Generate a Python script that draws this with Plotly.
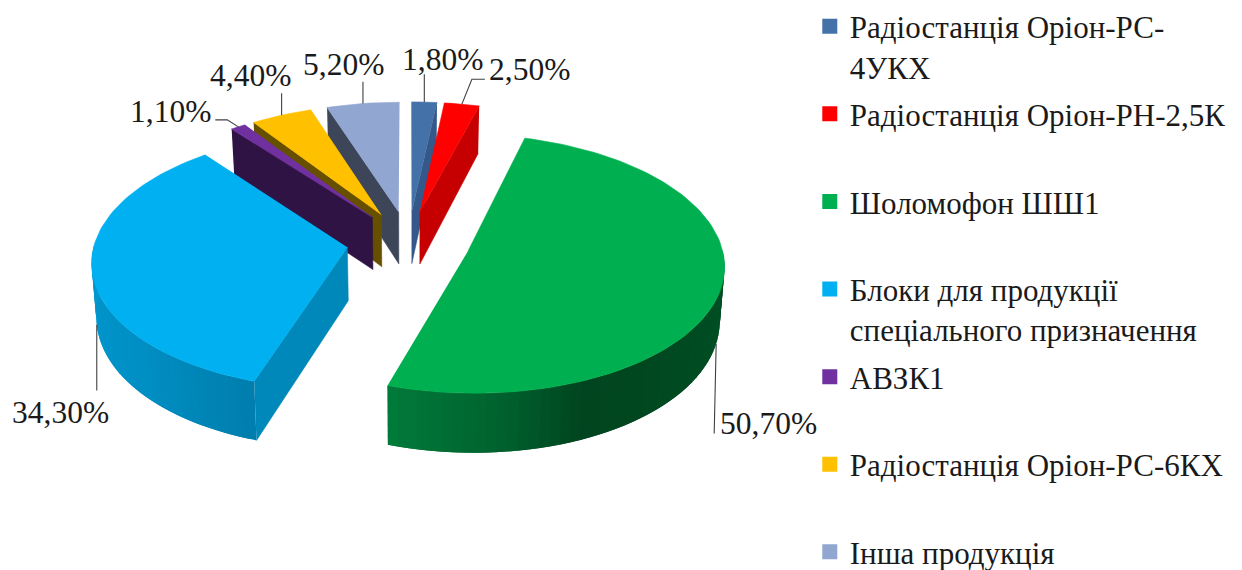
import math
import plotly.graph_objects as go

names = ["Радіостанція Оріон-РС-<br>4УКХ", "Радіостанція Оріон-РН-2,5К<br>&nbsp;", "Шоломофон ШШ1<br>&nbsp;",
         "Блоки для продукції<br>спеціального призначення", "АВЗК1<br>&nbsp;",
         "Радіостанція Оріон-РС-6КХ<br>&nbsp;", "Інша продукція"]
shares = [1.8, 2.5, 50.7, 34.3, 1.1, 4.4, 5.2]
labels = ["1,80%", "2,50%", "50,70%", "34,30%", "1,10%", "4,40%", "5,20%"]
top_colors = ["#4472A8", "#FF0000", "#00B050", "#00B0F0", "#7030A0", "#FFC000", "#91A6D1"]
wall_colors = ["#34588A", "#C60000", "#005C2A", "#0088BB", "#2E1344", "#665000", "#3D4659"]

# Projection of the tilted pie onto the page (pixels)
CX, CY, A, B, DEPTH, PERSP, EXPL = 408.5, 240, 252.6, 127, 53.5, 0.10, 0.245
STEPS_PER_PCT = 2.0

# Leader routes and label centres relative to each slice's rim anchor
leader_routes = {
    0: [(0, -28)], 1: [(10, -25), (23, -25)], 2: [(-2, 90)], 3: [(0, 66)],
    4: [(-11, -7), (-23, -7)], 5: [(0, -22)], 6: [(0, -22)],
}
label_offsets = {
    0: (18, -43), 1: (68, -35), 2: (52, 80), 3: (-36, 88),
    4: (-68, -15), 5: (-31, -40), 6: (-19, -39),
}
wall_shade = {
    2: [(0.0, "#007A39"), (0.2, "#006430"), (0.37, "#00451F"), (1.0, "#005226")],
    3: [(0.0, "#0099D0"), (0.6, "#008FC4"), (1.0, "#007FAE")],
}


def proj(X, Y, z=0.0):
    s = 1 / (1 + PERSP * Y)
    return (CX + A * X * s * (1 - 0.015 * z), CY - B * Y * s + DEPTH * s * z)


def rim(theta, ox, oy, z=0.0):
    return proj(ox + math.sin(theta), oy + math.cos(theta), z)


def hex2rgb(h):
    return tuple(int(h[i:i + 2], 16) for i in (1, 3, 5))


def shade(stops, t):
    for (t0, c0), (t1, c1) in zip(stops, stops[1:]):
        if t <= t1:
            f = (t - t0) / (t1 - t0)
            a, b = hex2rgb(c0), hex2rgb(c1)
            return "rgb(%d,%d,%d)" % tuple(a[i] + (b[i] - a[i]) * f for i in range(3))
    return stops[-1][1]


fig = go.Figure()


def poly(points, color, width=0.6):
    fig.add_trace(go.Scatter(x=[p[0] for p in points], y=[p[1] for p in points],
                             mode="lines", fill="toself", fillcolor=color,
                             line=dict(color=color, width=width), hoverinfo="skip",
                             showlegend=False))


edges = [0.0]
for v in shares:
    edges.append(edges[-1] + v)
total = edges[-1]
ang = [e / total * 2 * math.pi for e in edges]

# Paint back slices first, then the two big front slices
order = [0, 1, 6, 5, 4, 3, 2]
SEGS = 48
anchors = {}
for i in order:
    t0, t1 = ang[i], ang[i + 1]
    mid = (t0 + t1) / 2
    ox, oy = EXPL * math.sin(mid), EXPL * math.cos(mid)
    n = max(3, int(shares[i] * STEPS_PER_PCT))
    thetas = [t0 + (t1 - t0) * k / n for k in range(n + 1)]
    apex_top, apex_bot = proj(ox, oy), proj(ox, oy, 1)
    # radial cut faces turned towards the viewer
    if math.sin(t0) < -1e-6:
        poly([rim(t0, ox, oy), apex_top, apex_bot, rim(t0, ox, oy, 1)], wall_colors[i])
    if math.sin(t1) > 1e-6:
        poly([rim(t1, ox, oy), apex_top, apex_bot, rim(t1, ox, oy, 1)], wall_colors[i])
    # outer wall: each band overlaps the next so no seams show
    front = [t for t in thetas if math.cos(t) <= 0.02]
    if len(front) > 1 and i in wall_shade:
        fine = [front[0] + (front[-1] - front[0]) * k / SEGS for k in range(SEGS + 1)]
        for k in range(SEGS):
            a, b = fine[k], fine[min(k + 2, SEGS)]
            # gradient runs left to right on the page
            frac = 1 - k / (SEGS - 1) if i == 2 else 1 - k / (SEGS - 1)
            band = [rim(a + (b - a) * q / 3, ox, oy) for q in range(4)] + \
                   [rim(b - (b - a) * q / 3, ox, oy, 1) for q in range(4)]
            poly(band, shade(wall_shade[i], frac), width=0)
    # top face
    poly([apex_top] + [rim(t, ox, oy) for t in thetas], top_colors[i])
    anchors[i] = rim(mid, ox, oy, 1 if math.cos(mid) < 0 else 0)

# Leaders and value labels
annotations = []
for i in range(len(shares)):
    ax, ay = anchors[i]
    route = [(ax, ay)] + [(ax + dx, ay + dy) for dx, dy in leader_routes[i]]
    fig.add_trace(go.Scatter(x=[p[0] for p in route], y=[p[1] for p in route], mode="lines",
                             line=dict(color="#404040", width=1.1), hoverinfo="skip", showlegend=False))
    dx, dy = label_offsets[i]
    annotations.append(dict(x=ax + dx, y=ay + dy, xref="x", yref="y", text=labels[i], showarrow=False,
                            font=dict(family="Liberation Serif", size=31.5, color="#1a1a1a")))

# Legend
for name, color in zip(names, top_colors):
    fig.add_trace(go.Scatter(x=[None], y=[None], mode="markers", name=name, legendgroup=name,
                             marker=dict(symbol="square", size=15, color=color)))

fig.update_layout(
    margin=dict(l=0, r=0, t=0, b=0), paper_bgcolor="white", plot_bgcolor="white",
    width=1242, height=570, annotations=annotations,
    xaxis=dict(range=[0, 1242], visible=False, fixedrange=True),
    yaxis=dict(range=[570, 0], visible=False, fixedrange=True),
    legend=dict(x=0.652, y=1.006, xanchor="left", yanchor="top", valign="top", tracegroupgap=4,
                font=dict(family="Liberation Serif", size=31, color="#1a1a1a"),
                itemwidth=30, bgcolor="rgba(0,0,0,0)", maxheight=800),
)
fig.write_html("out.html", config=dict(displayModeBar=False),
               post_script="document.body.style.margin='0';")
